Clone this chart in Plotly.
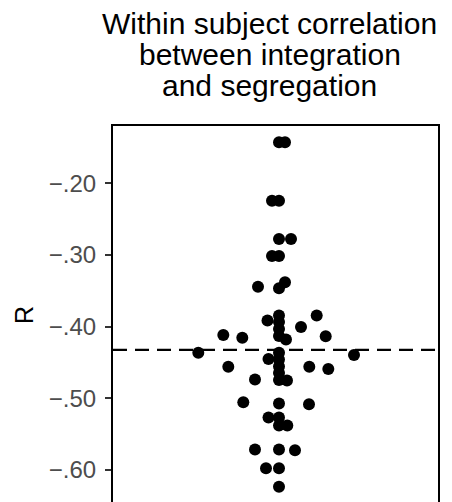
import plotly.graph_objects as go

# Within-subject correlation values (R) and beeswarm offsets (horizontal spread)
r_values = [
    -0.1428, -0.1428,
    -0.2243, -0.2243,
    -0.2777, -0.2777,
    -0.3014, -0.3014,
    -0.3443, -0.3465, -0.3381,
    -0.3845, -0.3935, -0.4033, -0.4131,
    -0.3845, -0.3914, -0.4005, -0.4117, -0.4154, -0.4179, -0.4135,
    -0.4364, -0.4364, -0.4396, -0.4459, -0.4452, -0.4559, -0.4556, -0.4559,
    -0.4591, -0.4647, -0.4738, -0.4745, -0.4752,
    -0.5056, -0.5072, -0.5084,
    -0.5268, -0.5268, -0.5379, -0.5379,
    -0.5714, -0.5714, -0.5724,
    -0.5977, -0.5977,
    -0.6233,
]
swarm_offset = [
    0, 6,
    -7, 0,
    0, 12,
    -7, 0,
    -21, 0, 6,
    0, 0, 0, 0,
    37.7, -11.5, 22, -55.7, -36.7, 7, 46.7,
    -80.7, 0, 75, 0, -10.5, -50.7, 0, 30.3,
    49.3, 0, -24, 0, 8,
    -35.7, 0, 30,
    -10.5, 0, 0, 8.3,
    -24, 0, 16,
    -13, 0,
    0,
]
mean_r = -0.4325
tick_vals = [-0.20, -0.30, -0.40, -0.50, -0.60]
tick_text = ["\u2212.20", "\u2212.30", "\u2212.40", "\u2212.50", "\u2212.60"]
title_lines = ["Within subject correlation", "between integration", "and segregation"]

FONT = "Liberation Sans, Arial, sans-serif"

fig = go.Figure()
fig.add_trace(go.Scatter(
    x=swarm_offset, y=r_values, mode="markers",
    marker=dict(size=12, color="black", line=dict(width=0)),
    hoverinfo="skip", showlegend=False,
))

fig.add_shape(type="line", xref="paper", x0=0, x1=1, yref="y", y0=mean_r, y1=mean_r,
              line=dict(color="black", width=2.2, dash="14px,8px"), layer="above")

title_y = [1.2721, 1.1907, 1.1082]
for txt, ty in zip(title_lines, title_y):
    fig.add_annotation(text=txt, xref="paper", yref="paper", x=0.483, y=ty,
                       xanchor="center", yanchor="middle", showarrow=False,
                       font=dict(family=FONT, size=30, color="black"))

fig.add_annotation(text="R", xref="paper", yref="paper", x=-0.274, y=0.497,
                   xanchor="center", yanchor="middle", textangle=-90, showarrow=False,
                   font=dict(family=FONT, size=25, color="black"))

fig.update_layout(
    width=452, height=502,
    margin=dict(l=113, r=14, t=126, b=0, pad=0),
    paper_bgcolor="white", plot_bgcolor="white",
    xaxis=dict(range=[-166, 159], side="top", showline=True, linecolor="black", linewidth=2,
               mirror=False, showgrid=False, zeroline=False, showticklabels=False, ticks=""),
    yaxis=dict(range=[-0.6447, -0.1200], showline=True, linecolor="black", linewidth=2,
               mirror=True, showgrid=False, zeroline=False,
               tickvals=tick_vals, ticktext=tick_text, ticks="outside", ticklen=6,
               tickwidth=2, tickcolor="#333333", ticklabelstandoff=4,
               tickfont=dict(family=FONT, size=24, color="#4D4D4D")),
)

fig.write_html("out.html")
